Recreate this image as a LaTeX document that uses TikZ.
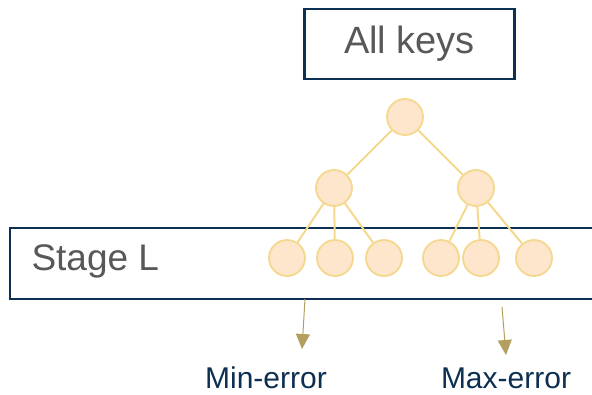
\documentclass[tikz,border=0pt]{standalone}
\usepackage{fontspec}
\setmainfont{Liberation Sans}
\usetikzlibrary{arrows.meta}
\definecolor{navy}{HTML}{0D2F52}
\definecolor{greytext}{HTML}{585858}
\definecolor{nodefill}{HTML}{FDE6CC}
\definecolor{nodeline}{HTML}{F5D88E}
\definecolor{khaki}{HTML}{B3A060}
\begin{document}
\begin{tikzpicture}[x=1pt,y=-1pt,
  frame/.style={draw=navy,line width=2.6pt},
  keynode/.style={circle,draw=nodeline,fill=nodefill,line width=1.8pt,minimum size=36pt,inner sep=0pt},
  treeedge/.style={draw=nodeline,line width=2pt},
  errarrow/.style={draw=khaki,line width=1pt,-{Triangle[length=15pt,width=14pt]}},
  bigtext/.style={text=greytext,font=\fontsize{38}{40}\selectfont},
  errlabel/.style={text=navy,font=\fontsize{30}{32}\selectfont,inner sep=1pt}]
\useasboundingbox (0,0) rectangle (592,394);
% boxes
\node[frame,minimum width=210pt,minimum height=70pt,inner sep=0pt] (all) at (409.5,44) {};
\node[bigtext] at (all.center) {All keys};
\draw[frame] (10,228) rectangle (620,299);
\node[bigtext,font=\fontsize{37}{40}\selectfont,anchor=west] (stage) at (28,261) {Stage L};
% tree
\node[keynode] (r) at (405,117) {};
\node[keynode] (a) at (334,188) {};
\node[keynode] (b) at (476,188) {};
\node[keynode] (l1) at (287,258) {};
\node[keynode] (l2) at (335,258) {};
\node[keynode] (l3) at (384,258) {};
\node[keynode] (l4) at (441,258) {};
\node[keynode] (l5) at (481,258) {};
\node[keynode] (l6) at (534,258) {};
\foreach \p/\c in {r/a,r/b,a/l1,a/l2,a/l3,b/l4,b/l5,b/l6}
  \draw[treeedge] (\p) -- (\c);
% error bounds
\node[errlabel] (minerr) at (266,378) {Min-error};
\node[errlabel] (maxerr) at (506,378) {Max-error};
\coordinate (minstart) at (305,299);
\coordinate (mintip) at (302,349);
\coordinate (maxstart) at (502,307);
\coordinate (maxtip) at (506,355);
\draw[errarrow] (minstart) -- (mintip);
\draw[errarrow] (maxstart) -- (maxtip);
\end{tikzpicture}
\end{document}
